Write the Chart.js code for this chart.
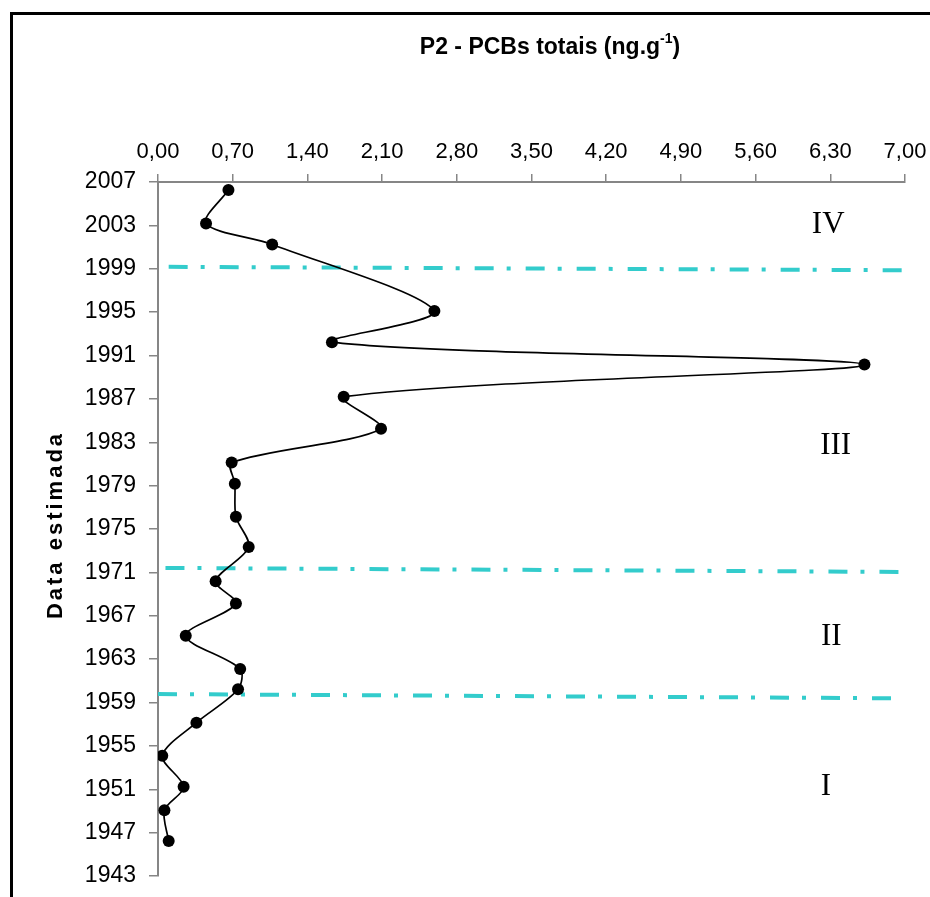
<!DOCTYPE html>
<html><head><meta charset="utf-8">
<script src="https://cdn.jsdelivr.net/npm/chart.js@4.4.1/dist/chart.umd.min.js"></script>
<style>html,body{margin:0;padding:0;background:#fff}#wrap{width:930px;height:897px;position:relative}</style>
</head><body><div id="wrap"><canvas id="c" width="930" height="897"></canvas></div>
<script>
// ---- data ----
const estimatedYears = [2006.26, 2003.18, 2001.24, 1995.10, 1992.23, 1990.16, 1987.20, 1984.24, 1981.13, 1979.18, 1976.13, 1973.33, 1970.18, 1968.12, 1965.16, 1962.10, 1960.22, 1957.14, 1954.09, 1951.22, 1949.06, 1946.22];
const pcbTotals = [0.66, 0.45, 1.07, 2.59, 1.63, 6.62, 1.74, 2.09, 0.69, 0.72, 0.73, 0.85, 0.54, 0.73, 0.26, 0.77, 0.75, 0.36, 0.04, 0.24, 0.06, 0.10];
const xTickValues = [0.00, 0.70, 1.40, 2.10, 2.80, 3.50, 4.20, 4.90, 5.60, 6.30, 7.00];
const yTickValues = [1943, 1947, 1951, 1955, 1959, 1963, 1967, 1971, 1975, 1979, 1983, 1987, 1991, 1995, 1999, 2003, 2007];
const zoneNames = ['IV', 'III', 'II', 'I'];
const boundaryStartX = [0.10, 0.07, 0.00];
const boundaryStartYear = [1999.18, 1971.41, 1959.78];
const boundaryEndX = [7.00, 7.00, 6.90];
const boundaryEndYear = [1998.86, 1971.04, 1959.39];
const titleText = 'P2 - PCBs totais (ng.g';
const titleSup = '-1';
const titleTail = ')';
const yTitleText = 'Data estimada';

// ---- layout of annotations (in data coordinates) ----
const zoneLabelPos = { x: [6.28, 6.35, 6.31, 6.26], y: [2003.16, 1982.76, 1965.10, 1951.30] };

const fmt = v => Number(v).toFixed(2).replace('.', ',');

const datasets = [{
  label: 'PCBs totais',
  data: pcbTotals.map((v, i) => ({ x: v, y: estimatedYears[i] })),
  borderColor: '#000', backgroundColor: '#000', borderWidth: 1.7,
  pointRadius: 6, pointBackgroundColor: '#000', pointBorderWidth: 0,
  tension: 0.3, order: 0
}];
boundaryStartX.forEach((sx, i) => {
  datasets.push({
    label: 'limite ' + (i + 1),
    data: [{ x: sx, y: boundaryStartYear[i] }, { x: boundaryEndX[i], y: boundaryEndYear[i] }],
    borderColor: '#33CCCC', borderWidth: 4, borderDash: [19, 13, 4, 15], borderCapStyle: 'butt',
    pointRadius: 0, tension: 0, order: 1, clip: false
  });
});

const decor = {
  id: 'decor',
  afterDraw(chart) {
    const ctx = chart.ctx;
    const xs = chart.scales.x, ys = chart.scales.y;
    ctx.save();
    // frame
    ctx.strokeStyle = '#000'; ctx.lineWidth = 3;
    ctx.beginPath(); ctx.moveTo(11.5, 897); ctx.lineTo(11.5, 13.5); ctx.lineTo(930, 13.5); ctx.stroke();
    // title with superscript
    ctx.fillStyle = '#000';
    ctx.textBaseline = 'alphabetic';
    const big = 'bold 23px "Liberation Sans", Arial, sans-serif';
    const small = 'bold 14px "Liberation Sans", Arial, sans-serif';
    ctx.font = big;
    const w1 = ctx.measureText(titleText).width;
    const w3 = ctx.measureText(titleTail).width;
    ctx.font = small;
    const w2 = ctx.measureText(titleSup).width;
    const total = w1 + w2 + w3;
    const tx = 550 - total / 2;
    const base = 54;
    ctx.textAlign = 'left';
    ctx.font = big;
    ctx.fillText(titleText, tx, base);
    ctx.font = small;
    ctx.fillText(titleSup, tx + w1, base - 11);
    ctx.font = big;
    ctx.fillText(titleTail, tx + w1 + w2, base);
    // y title
    ctx.save();
    ctx.translate(56, 525);
    ctx.rotate(-Math.PI / 2);
    ctx.font = 'bold 22px "Liberation Sans", Arial, sans-serif';
    try { ctx.letterSpacing = '3px'; } catch (e) {}
    ctx.textAlign = 'center'; ctx.textBaseline = 'middle';
    ctx.fillText(yTitleText, 0, 0);
    ctx.restore();
    // zone labels
    ctx.font = '31px "Liberation Serif", "Times New Roman", serif';
    ctx.textAlign = 'center'; ctx.textBaseline = 'middle';
    zoneNames.forEach((n, i) => {
      ctx.fillText(n, xs.getPixelForValue(zoneLabelPos.x[i]), ys.getPixelForValue(zoneLabelPos.y[i]) + 1);
    });
    ctx.restore();
  }
};

new Chart(document.getElementById('c'), {
  type: 'line',
  data: { datasets },
  options: {
    responsive: false, animation: false,
    layout: { padding: { left: 0, top: 0, right: 25, bottom: 21 } },
    plugins: { legend: { display: false }, title: { display: false }, tooltip: { enabled: false } },
    scales: {
      x: {
        type: 'linear', position: 'top', min: 0, max: 7,
        afterBuildTicks: s => { s.ticks = xTickValues.map(v => ({ value: v })); },
        afterFit: s => { s.height = 182; s.paddingLeft = 0; s.paddingRight = 0; },
        grid: { drawOnChartArea: false, drawTicks: true, tickLength: 8, color: '#868686', lineWidth: 1.5 },
        border: { color: '#868686', width: 2 },
        ticks: { font: { family: '"Liberation Sans", Arial, sans-serif', size: 22 }, color: '#000', padding: 9, maxRotation: 0, autoSkip: false, callback: v => fmt(v) }
      },
      y: {
        type: 'linear', min: 1943, max: 2007,
        afterBuildTicks: s => { s.ticks = yTickValues.map(v => ({ value: v })); },
        afterFit: s => { s.width = 158; s.paddingTop = 0; s.paddingBottom = 0; },
        grid: { drawOnChartArea: false, drawTicks: true, tickLength: 9, color: '#868686', lineWidth: 1.5 },
        border: { color: '#868686', width: 2 },
        ticks: { font: { family: '"Liberation Sans", Arial, sans-serif', size: 23 }, color: '#000', padding: 13, autoSkip: false, callback: v => String(v) }
      }
    }
  },
  plugins: [decor]
});
</script>
</body></html>
